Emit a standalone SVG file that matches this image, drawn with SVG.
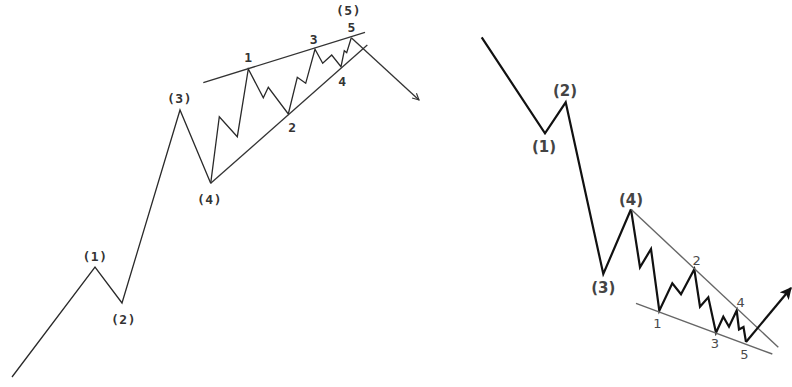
<svg xmlns="http://www.w3.org/2000/svg" width="792" height="387" viewBox="0 0 792 387">
<style>
.bg{fill:#ffffff}
.lw{fill:none;stroke:#2a2a2a;stroke-width:1.3;stroke-linejoin:miter}
.lt{fill:none;stroke:#333;stroke-width:1.3}
.ll{font-family:"DejaVu Sans Mono","Liberation Mono",monospace;font-size:13px;font-weight:bold;fill:#333;text-anchor:middle;letter-spacing:0.5px}
.rw{fill:none;stroke:#111;stroke-width:2.2;stroke-linejoin:miter}
.rt{fill:none;stroke:#666;stroke-width:1.4}
.rp{font-family:"DejaVu Sans",sans-serif;font-size:15px;font-weight:bold;fill:#444;text-anchor:middle}
.rd{font-family:"DejaVu Sans",sans-serif;font-size:13px;fill:#4a4a4a;text-anchor:middle}
</style>
<defs>
<marker id="openArrow" viewBox="0 0 10 10" refX="9" refY="5" markerWidth="8" markerHeight="8" orient="auto" markerUnits="userSpaceOnUse">
<path d="M1,1 L9,5 L1,9" fill="none" stroke="#333" stroke-width="1.4"/>
</marker>
<marker id="solidArrow" viewBox="0 0 10 10" refX="9" refY="5" markerWidth="12" markerHeight="12" orient="auto" markerUnits="userSpaceOnUse">
<path d="M0,0 L10,5 L0,10 L2.5,5 Z" fill="#111"/>
</marker>
</defs>
<rect class="bg" x="0" y="0" width="792" height="387"/>
<g id="connectors">
<polyline id="left-main" class="lw" points="12,377 95,267 122,303 180,110 210.7,183.3"/>
<polyline id="left-sub" class="lw" points="210.7,183.3 219.3,116.7 237.3,136.7 248.3,69 263.3,97.7 268.3,87.3 288.3,114 297.3,77.3 305.7,83.3 315,49.3 322.7,63.3 331.7,55 341,66.7 344.3,50.7 346.7,52.7 351.3,37.7"/>
<line id="left-upper-trend" class="lt" x1="203.3" y1="82.7" x2="365" y2="32.3"/>
<line id="left-lower-trend" class="lt" x1="210.7" y1="183.3" x2="367.3" y2="45"/>
<line id="left-arrow" class="lt" x1="351.3" y1="37.7" x2="419" y2="100" marker-end="url(#openArrow)"/>
<polyline id="right-main" class="rw" points="481.7,37.3 545,133.3 565.7,102.3 603.3,274 631,209.3"/>
<polyline id="right-sub" class="rw" points="631,209.3 640,267.3 651,249 659.3,310.7 672.3,283.3 681,294.3 694.3,269.3 700,306.7 708.3,297.3 716,332.7 723.3,316.7 729,326.7 736.7,310.5 739,329.5 743.5,327 746,342"/>
<line id="right-upper-trend" class="rt" x1="631" y1="209.3" x2="778.3" y2="347.3"/>
<line id="right-lower-trend" class="rt" x1="636" y1="303.3" x2="772.3" y2="354"/>
<line id="right-arrow" class="rw" x1="746" y1="342" x2="791" y2="288" marker-end="url(#solidArrow)"/>
</g>
<g id="left-labels">
<g id="L1"><text class="ll" x="95" y="260.5">(1)</text></g>
<g id="L2"><text class="ll" x="123.5" y="324">(2)</text></g>
<g id="L3"><text class="ll" x="179.5" y="103">(3)</text></g>
<g id="L4"><text class="ll" x="209.5" y="204">(4)</text></g>
<g id="L5"><text class="ll" x="348.5" y="15">(5)</text></g>
<g id="Ls1"><text class="ll" x="248.3" y="61.5">1</text></g>
<g id="Ls2"><text class="ll" x="292.3" y="132">2</text></g>
<g id="Ls3"><text class="ll" x="314" y="43.5">3</text></g>
<g id="Ls4"><text class="ll" x="342.3" y="85.5">4</text></g>
<g id="Ls5"><text class="ll" x="351.7" y="31.5">5</text></g>
</g>
<g id="right-labels">
<g id="R1"><text class="rp" x="544" y="152">(1)</text></g>
<g id="R2"><text class="rp" x="565" y="96">(2)</text></g>
<g id="R3"><text class="rp" x="603.3" y="293">(3)</text></g>
<g id="R4"><text class="rp" x="631" y="205">(4)</text></g>
<g id="Rs1"><text class="rd" x="657.3" y="327.5">1</text></g>
<g id="Rs2"><text class="rd" x="696.7" y="264.5">2</text></g>
<g id="Rs3"><text class="rd" x="715" y="348">3</text></g>
<g id="Rs4"><text class="rd" x="740.7" y="306.5">4</text></g>
<g id="Rs5"><text class="rd" x="744.3" y="358.5">5</text></g>
</g>
</svg>
